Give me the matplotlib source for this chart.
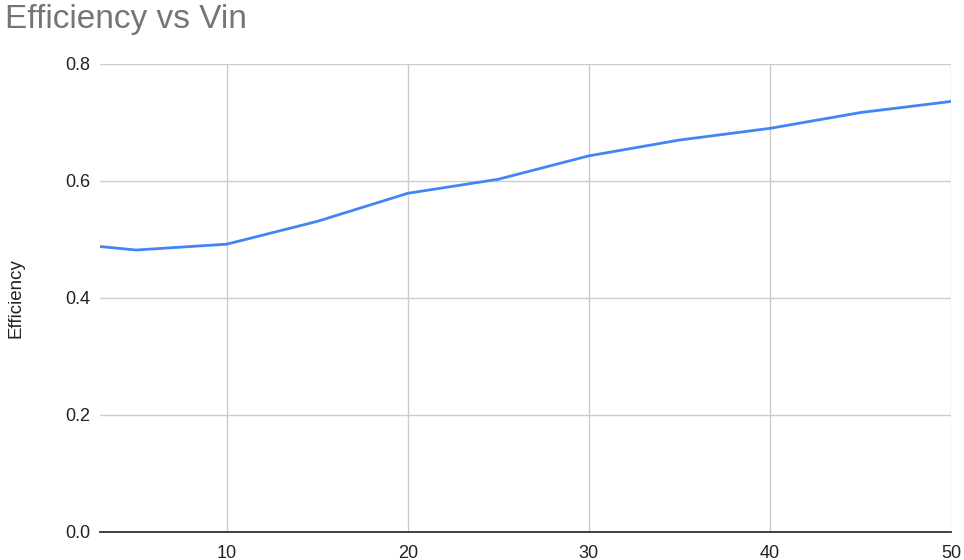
import matplotlib
matplotlib.use("Agg")
import matplotlib.pyplot as plt

# Efficiency measured at each input voltage
vin = [3, 5, 10, 15, 20, 25, 30, 35, 40, 45, 50]
efficiency = [0.488, 0.482, 0.492, 0.531, 0.579, 0.603, 0.643, 0.670, 0.690, 0.717, 0.736]

x_ticks = [10, 20, 30, 40, 50]
y_ticks = [0.0, 0.2, 0.4, 0.6, 0.8]

plt.rcParams['font.family'] = ['Liberation Sans', 'DejaVu Sans']

fig = plt.figure(figsize=(9.64, 5.60), dpi=100)
ax = fig.add_axes([100 / 964, 1 - 532 / 560, 851 / 964, 468 / 560])

ax.plot(vin, efficiency, color='#4285F4', linewidth=2.0, solid_joinstyle='round', zorder=3)

ax.set_xlim(vin[0], 50)
ax.set_ylim(0, 0.8)
ax.set_xticks(x_ticks)
ax.set_yticks(y_ticks)
ax.set_yticklabels([f"{v:.1f}" for v in y_ticks])

ax.grid(True, color='#cccccc', linewidth=1.0)
ax.set_axisbelow(True)
for side in ['top', 'right', 'left']:
    ax.spines[side].set_visible(False)
ax.spines['bottom'].set_color('#333333')
ax.spines['bottom'].set_linewidth(1.3)
ax.spines['bottom'].set_zorder(4)

ax.tick_params(axis='both', length=0, labelsize=13, labelcolor='#222222')
ax.tick_params(axis='y', pad=7)
ax.tick_params(axis='x', pad=9)

ax.set_ylabel('Efficiency', fontsize=13.5, color='#222222')
ax.yaxis.set_label_coords(-76 / 851, 0.5)

fig.text(5 / 964, 1 - 28 / 560, 'Efficiency vs Vin', fontsize=24, color='#757575',
         ha='left', va='baseline')

fig.savefig('out.png', dpi=100, facecolor='white')
